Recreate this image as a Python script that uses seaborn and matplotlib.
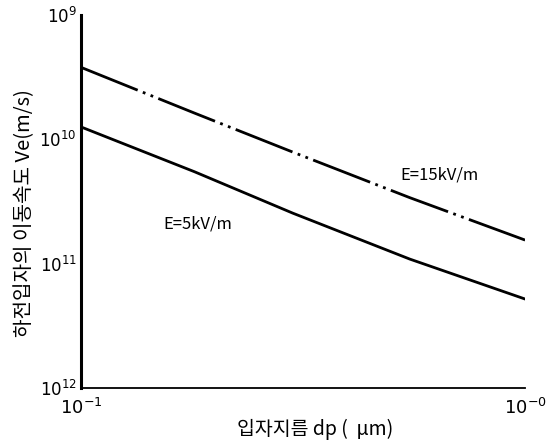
import matplotlib
matplotlib.use('Agg')
import matplotlib.pyplot as plt
import seaborn as sns
import pandas as pd

# 데이터
dp = [0.1, 0.18, 0.3, 0.55, 1.0]
ve_15 = [3.8e-10, 1.63e-10, 7.9e-11, 3.4e-11, 1.55e-11]
ve_5 = [1.26e-10, 5.5e-11, 2.55e-11, 1.09e-11, 5.2e-12]
y_ticks = [1e-12, 1e-11, 1e-10, 1e-9]
y_tick_labels = ['$10^{12}$', '$10^{11}$', '$10^{10}$', '$10^{9}$']
x_ticks = [0.1, 1.0]
x_tick_labels = ['$10^{-1}$', '$10^{-0}$']

sns.set_theme(style='white')
plt.rcParams['font.family'] = ['Noto Sans CJK KR', 'DejaVu Sans']
plt.rcParams['axes.unicode_minus'] = False
plt.rcParams['text.color'] = 'black'
plt.rcParams['axes.labelcolor'] = 'black'
plt.rcParams['xtick.color'] = 'black'
plt.rcParams['ytick.color'] = 'black'

df = pd.DataFrame({'dp': dp * 2,
                   'Ve': ve_15 + ve_5,
                   'E': ['15'] * len(dp) + ['5'] * len(dp)})

fig = plt.figure(figsize=(5.51, 4.44), dpi=100)
ax = fig.add_axes([0.147, 0.126, 0.806, 0.840])

sns.lineplot(data=df[df['E'] == '15'], x='dp', y='Ve', color='black', lw=2.0, ax=ax)
sns.lineplot(data=df[df['E'] == '5'], x='dp', y='Ve', color='black', lw=2.0, ax=ax)
ax.lines[0].set_dashes([22, 2, 1, 2, 1, 2])

ax.set_xscale('log')
ax.set_yscale('log')
ax.set_xlim(0.1, 1.0)
ax.set_ylim(1e-12, 1e-9)
ax.set_xticks(x_ticks)
ax.set_xticklabels(x_tick_labels, fontsize=13, family='DejaVu Sans')
ax.set_yticks(y_ticks)
ax.set_yticklabels(y_tick_labels, fontsize=12, family='DejaVu Sans')
ax.minorticks_off()
ax.tick_params(axis='x', length=0, pad=7)
ax.tick_params(axis='y', length=0, pad=3)

for s in ['top', 'right']:
    ax.spines[s].set_visible(False)
ax.spines['left'].set_linewidth(2.2)
ax.spines['left'].set_color('black')
ax.spines['bottom'].set_linewidth(1.3)
ax.spines['bottom'].set_color('black')

ax.text(0.524, 5.2e-11, 'E=15kV/m', fontsize=12, ha='left', va='center')
ax.text(0.153, 2.1e-11, 'E=5kV/m', fontsize=12, ha='left', va='center')

ax.set_xlabel('입자지름 dp (  μm)', fontsize=14, va='center')
ax.xaxis.set_label_coords(0.527, -0.112)
ax.set_ylabel('하전입자의 이동속도 Ve(m/s)', fontsize=14.5, va='center')
ax.yaxis.set_label_coords(-0.128, 0.469)

fig.savefig('out.png', dpi=100)
